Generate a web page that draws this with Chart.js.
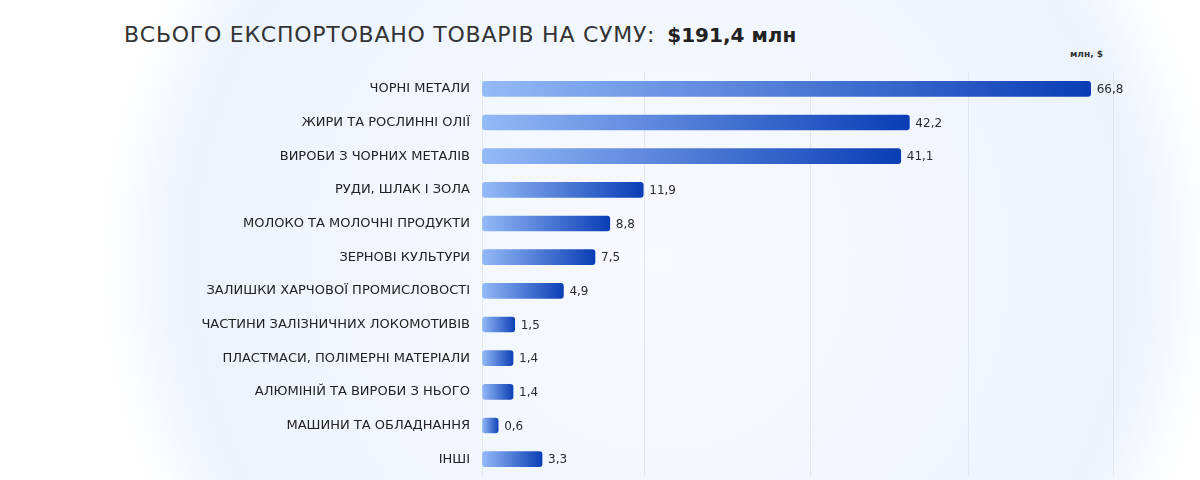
<!DOCTYPE html>
<html lang="uk">
<head>
<meta charset="utf-8">
<title>Експорт товарів</title>
<script src="https://cdn.jsdelivr.net/npm/chart.js@4.4.1/dist/chart.umd.min.js"></script>
<style>
    html, body {
        margin: 0;
        padding: 0;
        width: 1200px;
        height: 480px;
        overflow: hidden;
        font-family: "DejaVu Sans", sans-serif;
        background:
            radial-gradient(circle 560px at 660px 260px, #f7faff 0%, #f1f6fe 55%, #ecf3fd 85%, rgba(255,255,255,0) 100%),
            #ffffff;
    }
    #title {
        position: absolute;
        left: 124px;
        top: 22px;
        font-size: 22px;
        color: #333;
        letter-spacing: 0.75px;
        white-space: nowrap;
    }
    #title b {
        color: #222;
        font-size: 20px;
        letter-spacing: 0;
        margin-left: 12px;
    }
    #unit {
        position: absolute;
        left: 1070px;
        top: 49px;
        font-size: 9px;
        font-weight: bold;
        color: #333;
    }
    #wrap {
        position: absolute;
        left: 0;
        top: 0;
        width: 1200px;
        height: 480px;
    }
</style>
</head>
<body>
<div id="title">ВСЬОГО ЕКСПОРТОВАНО ТОВАРІВ НА СУМУ:<b>$191,4 млн</b></div>
<div id="unit">млн, $</div>
<div id="wrap"><canvas id="myChart"></canvas></div>
<script>
    const categories = [
        "ЧОРНІ МЕТАЛИ",
        "ЖИРИ ТА РОСЛИННІ ОЛІЇ",
        "ВИРОБИ З ЧОРНИХ МЕТАЛІВ",
        "РУДИ, ШЛАК І ЗОЛА",
        "МОЛОКО ТА МОЛОЧНІ ПРОДУКТИ",
        "ЗЕРНОВІ КУЛЬТУРИ",
        "ЗАЛИШКИ ХАРЧОВОЇ ПРОМИСЛОВОСТІ",
        "ЧАСТИНИ ЗАЛІЗНИЧНИХ ЛОКОМОТИВІВ",
        "ПЛАСТМАСИ, ПОЛІМЕРНІ МАТЕРІАЛИ",
        "АЛЮМІНІЙ ТА ВИРОБИ З НЬОГО",
        "МАШИНИ ТА ОБЛАДНАННЯ",
        "ІНШІ",
    ];

    const exportValues = [66.8, 42.2, 41.1, 11.9, 8.8, 7.5, 4.9, 1.5, 1.4, 1.4, 0.6, 3.3];

    // gridline positions (values) on the compressed axis
    const gridTicks = [0, 12, 30, 50, 70];

    // the bars in the original are not linear, they look like a power scale
    const POW = 0.77;

    class PowScale extends Chart.LinearScale {
        getPixelForValue(value) {
            const range = this.max - this.min;
            const t = Math.pow(Math.max(value - this.min, 0) / range, POW);
            return this.getPixelForDecimal(t);
        }
        getValueForPixel(pixel) {
            const t = Math.max(this.getDecimalForPixel(pixel), 0);
            return this.min + Math.pow(t, 1 / POW) * (this.max - this.min);
        }
    }
    PowScale.id = "pow";
    PowScale.defaults = Chart.LinearScale.defaults;
    Chart.register(PowScale);

    const fmt = (v) => v.toFixed(1).replace(".", ",");

    // value labels at the end of each bar
    const valueLabels = {
        id: "valueLabels",
        afterDatasetsDraw(chart) {
            const ctx = chart.ctx;
            const meta = chart.getDatasetMeta(0);
            ctx.save();
            ctx.font = "12px 'DejaVu Sans', sans-serif";
            ctx.fillStyle = "#2b2b2b";
            ctx.textAlign = "left";
            ctx.textBaseline = "middle";
            meta.data.forEach((bar, i) => {
                ctx.fillText(fmt(exportValues[i]), bar.x + 6, bar.y + 1);
            });
            ctx.restore();
        },
    };

    const ctx = document.getElementById("myChart").getContext("2d");
    new Chart(ctx, {
        type: "bar",
        data: {
            labels: categories,
            datasets: [
                {
                    data: exportValues,
                    barThickness: 15,
                    borderRadius: 3,
                    borderSkipped: false,
                    backgroundColor: (c) => {
                        const chart = c.chart;
                        if (!chart.chartArea || c.type !== "data") {
                            return "#3a6fd8";
                        }
                        const x = chart.scales.x;
                        const x0 = x.getPixelForValue(0);
                        const x1 = x.getPixelForValue(c.parsed.x);
                        const g = chart.ctx.createLinearGradient(x0, 0, x1 + 1, 0);
                        g.addColorStop(0, "#94baf7");
                        g.addColorStop(1, "#0a3db5");
                        return g;
                    },
                },
            ],
        },
        options: {
            indexAxis: "y",
            responsive: true,
            maintainAspectRatio: false,
            animation: false,
            layout: {
                padding: { left: 0, right: 87, top: 72, bottom: 4 },
            },
            plugins: {
                legend: { display: false },
                tooltip: { enabled: false },
            },
            scales: {
                x: {
                    type: "pow",
                    min: 0,
                    max: 70,
                    afterBuildTicks: (scale) => {
                        scale.ticks = gridTicks.map((v) => ({ value: v }));
                    },
                    afterFit: (scale) => {
                        scale.height = 0;
                    },
                    ticks: { display: false },
                    border: { display: false },
                    grid: {
                        color: "#e2e7ee",
                        lineWidth: 1,
                        drawTicks: false,
                    },
                },
                y: {
                    afterFit: (scale) => {
                        // fixed label column, and no extra room for the first/last label
                        scale.width = 482;
                        scale.paddingTop = 0;
                        scale.paddingBottom = 0;
                    },
                    border: { display: false },
                    grid: { display: false, drawTicks: false },
                    ticks: {
                        padding: 12,
                        color: "#222",
                        font: { family: "'DejaVu Sans', sans-serif", size: 13 },
                    },
                },
            },
        },
        plugins: [valueLabels],
    });
</script>
</body>
</html>
